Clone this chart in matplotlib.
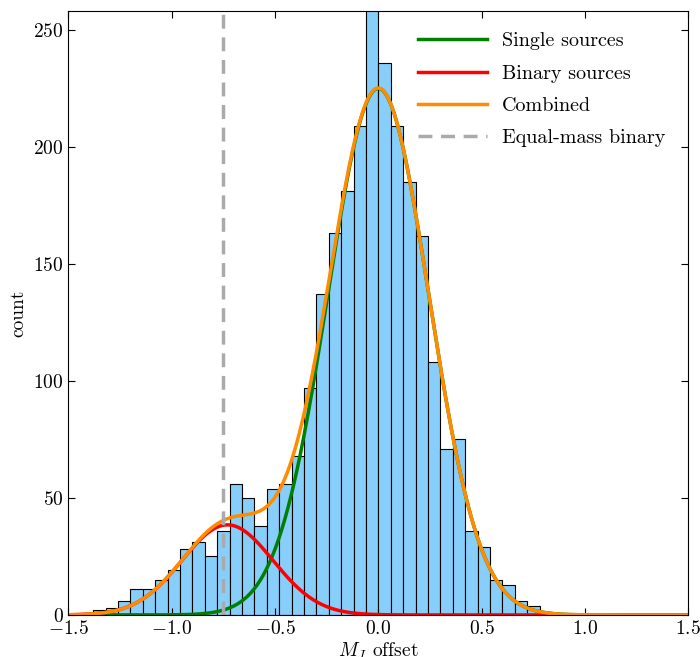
"""Histogram of M_J offsets with single + binary Gaussian fit components."""

import matplotlib
matplotlib.use("Agg")

import matplotlib.pyplot as plt
import numpy as np

# histogram: 50 bins over [-1.5, 1.5]
bin_lo, bin_hi, n_bins = -1.5, 1.5, 50
counts = [0, 1, 2, 3, 6, 11, 11, 15, 19, 28,
          31, 25, 36, 56, 50, 38, 54, 56, 68, 97,
          137, 163, 181, 209, 265, 236, 209, 185, 162, 108,
          71, 75, 36, 29, 15, 13, 6, 4, 0, 0,
          0, 0, 0, 0, 0, 0, 0, 0, 0, 0]

# fitted gaussian components: amplitude, mean, sigma
single_params = (225.0, 0.0, 0.245)
binary_params = (38.5, -0.73, 0.22)
equal_mass_offset = -0.75


def gauss(x, amp, mu, sig):
    return amp * np.exp(-0.5 * ((x - mu) / sig) ** 2)


plt.rcParams["font.family"] = "serif"
plt.rcParams["font.serif"] = ["cmr10", "DejaVu Serif"]
plt.rcParams["mathtext.fontset"] = "cm"
plt.rcParams["axes.formatter.use_mathtext"] = True
plt.rcParams["font.size"] = 14

edges = np.linspace(bin_lo, bin_hi, n_bins + 1)
width = edges[1] - edges[0]

fig = plt.figure(figsize=(7.0, 6.57), dpi=100)
ax = fig.add_axes([0.0976, 0.064, 0.8857, 0.919])

ax.bar(edges[:-1], counts, width=width, align="edge",
       color="#87cefa", edgecolor="black", linewidth=0.8)

x = np.linspace(bin_lo, bin_hi, 600)
single = gauss(x, *single_params)
binary = gauss(x, *binary_params)

ax.plot(x, single, color="green", lw=2.5, label="Single sources")
ax.plot(x, binary, color="red", lw=2.5, label="Binary sources")
ax.plot(x, single + binary, color="darkorange", lw=2.5, label="Combined")
ax.axvline(equal_mass_offset, color="#aaaaaa", lw=2.5, ls=(0, (4, 2.5)),
           label="Equal-mass binary")

ax.set_xlim(bin_lo, bin_hi)
ax.set_ylim(0, 258)
ax.set_xticks([-1.5, -1.0, -0.5, 0.0, 0.5, 1.0, 1.5])
ax.set_yticks([0, 50, 100, 150, 200, 250])
ax.tick_params(direction="in", top=True, right=True, length=5)
ax.set_xlabel(r"$M_J$ offset", labelpad=2)
ax.set_ylabel("count")

ax.legend(loc="upper right", frameon=False, fontsize=14.5,
          handlelength=3.4, handletextpad=0.75, labelspacing=0.7,
          borderaxespad=0.5, bbox_to_anchor=(0.992, 0.995))

fig.savefig("out.png", dpi=100)
plt.close(fig)
